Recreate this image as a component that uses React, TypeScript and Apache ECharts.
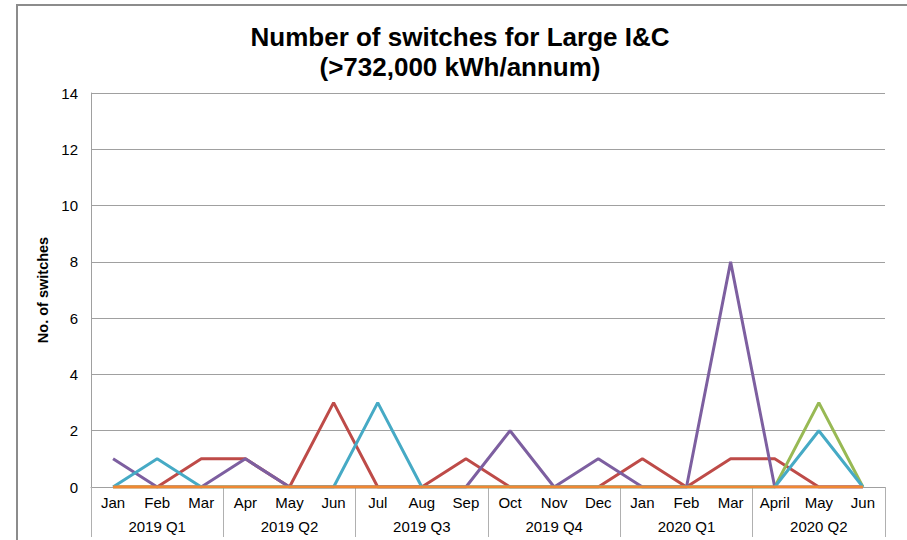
import React, { useEffect, useRef } from "react";
import * as echarts from "echarts";

const months = ["Jan", "Feb", "Mar", "Apr", "May", "Jun", "Jul", "Aug", "Sep", "Oct", "Nov", "Dec", "Jan", "Feb", "Mar", "April", "May", "Jun"];
const quarters = ["2019 Q1", "2019 Q2", "2019 Q3", "2019 Q4", "2020 Q1", "2020 Q2"];
const yTicks = [0, 2, 4, 6, 8, 10, 12, 14];

const redSeries = [0, 0, 1, 1, 0, 3, 0, 0, 1, 0, 0, 0, 1, 0, 1, 1, 0, 0];
const greenSeries = [0, 0, 0, 0, 0, 0, 0, 0, 0, 0, 0, 0, 0, 0, 0, 0, 3, 0];
const purpleSeries = [1, 0, 0, 1, 0, 0, 0, 0, 0, 2, 0, 1, 0, 0, 8, 0, 0, 0];
const tealSeries = [0, 1, 0, 0, 0, 0, 3, 0, 0, 0, 0, 0, 0, 0, 0, 0, 2, 0];
const orangeSeries = [0, 0, 0, 0, 0, 0, 0, 0, 0, 0, 0, 0, 0, 0, 0, 0, 0, 0];

const seriesList = [
  { name: "Red", data: redSeries, color: "#BE4B48" },
  { name: "Green", data: greenSeries, color: "#98B954" },
  { name: "Purple", data: purpleSeries, color: "#7D5FA0" },
  { name: "Teal", data: tealSeries, color: "#46AAC5" },
  { name: "Orange", data: orangeSeries, color: "#F08732" },
];

const FONT = "'Liberation Sans', Arial, sans-serif";

export default function App() {
  const ref = useRef<HTMLDivElement>(null);
  useEffect(() => {
    if (!ref.current) return;
    const chart = echarts.init(ref.current, undefined, { renderer: "svg" });
    chart.setOption({
      animation: false,
      backgroundColor: "#ffffff",
      title: {
        text: "Number of switches for Large I&C\n(>732,000 kWh/annum)",
        left: 455,
        textAlign: "center",
        top: 17,
        textStyle: { fontFamily: FONT, fontWeight: "bold", fontSize: 26, color: "#000", lineHeight: 30 },
      },
      graphic: [
        {
          type: "rect",
          shape: { x: 17, y: 5, width: 1000, height: 600 },
          style: { fill: "none", stroke: "#8c8c8c", lineWidth: 2 },
          silent: true,
        },
      ],
      grid: { left: 91, right: 22, top: 93, bottom: 53 },
      xAxis: [
        {
          type: "category",
          data: months,
          boundaryGap: true,
          axisLine: { show: true, lineStyle: { color: "#a0a0a0", width: 1 } },
          axisTick: { show: false },
          axisLabel: { fontFamily: FONT, fontSize: 15, color: "#000", margin: 8, interval: 0 },
        },
        {
          type: "category",
          data: quarters,
          position: "bottom",
          boundaryGap: true,
          axisLine: { show: false },
          axisTick: { show: true, length: 50, lineStyle: { color: "#b0b0b0", width: 1 } },
          axisLabel: { fontFamily: FONT, fontSize: 15, color: "#000", margin: 32, interval: 0 },
        },
      ],
      yAxis: {
        type: "value",
        min: 0,
        max: yTicks[yTicks.length - 1],
        interval: 2,
        name: "No. of switches",
        nameLocation: "middle",
        nameGap: 35,
        nameTextStyle: { fontFamily: FONT, fontWeight: "bold", fontSize: 14.5, color: "#000" },
        axisLine: { show: true, lineStyle: { color: "#a0a0a0", width: 1 } },
        axisTick: { show: false },
        axisLabel: { fontFamily: FONT, fontSize: 15, color: "#000", margin: 13 },
        splitLine: { show: true, lineStyle: { color: "#a0a0a0", width: 1 } },
      },
      series: seriesList.map((s) => ({
        name: s.name,
        type: "line",
        data: s.data,
        xAxisIndex: 0,
        symbol: "none",
        lineStyle: { color: s.color, width: 3 },
        itemStyle: { color: s.color },
      })),
    });
    return () => chart.dispose();
  }, []);
  return <div ref={ref} style={{ position: "fixed", left: 0, top: 0, width: 907, height: 540 }} />;
}
